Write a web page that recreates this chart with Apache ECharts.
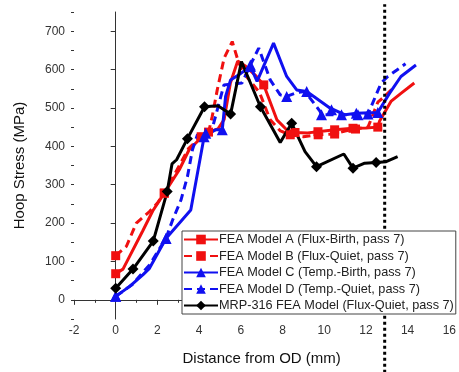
<!DOCTYPE html>
<html>
<head>
<meta charset="utf-8">
<script src="https://cdn.jsdelivr.net/npm/echarts@6/dist/echarts.min.js"></script>
<style>
  html, body { margin: 0; padding: 0; background: #fff; }
  #chart { width: 459px; height: 372px; }
</style>
</head>
<body>
<div id="chart"></div>
<script>
// [distance mm, hoop stress MPa]
const modelA = [[0,68],[0.35,80],[1.3,180],[1.78,232],[2.33,278],[3.05,339],[3.52,391],[4.0,417],[4.45,437],[4.9,445],[5.2,470],[5.5,565],[5.85,622],[6.2,610],[6.7,585],[7.1,560],[7.73,469],[8.2,443],[8.6,436],[9.2,435],[9.7,438],[10.5,443],[11.38,447],[12.0,448],[12.57,450],[12.65,465],[13.2,517],[13.68,538],[14.32,565]];
const modelAMarks = [0, 4, 8, 15, 18, 20, 21, 22, 24];

const modelB = [[0,115],[0.51,139],[0.99,200],[1.62,230],[2.0,252],[2.33,278],[3.5,395],[4.1,425],[4.48,443],[4.63,478],[4.87,547],[5.2,630],[5.59,673],[5.9,617],[6.3,580],[6.9,540],[7.4,470],[7.9,440],[8.37,430],[9.0,425],[9.71,430],[10.5,432],[11.0,440],[11.5,445],[12.1,450],[12.57,515],[12.9,530],[13.3,552]];
const modelBMarks = [0, 5, 7, 18, 20, 21, 23];

const modelC = [[0,9],[0.67,35],[1.3,65],[1.62,82],[2.41,160],[3.6,234],[4.24,425],[4.79,443],[5.11,443],[5.27,530],[5.51,573],[6.0,590],[6.46,608],[6.78,569],[7.57,669],[8.2,582],[8.68,547],[9.16,543],[9.5,530],[10.27,500],[10.35,495],[11.0,482],[11.54,486],[12.57,488],[13.13,538],[13.68,582],[14.4,612]];
const modelCMarks = [0, 4, 6, 8, 12, 17, 20, 22, 23];

const modelD = [[0,9],[0.8,40],[1.62,91],[2.41,160],[2.73,208],[3.13,260],[3.44,321],[3.68,391],[3.92,430],[4.32,434],[4.6,440],[5.19,560],[6.06,565],[6.46,612],[6.86,656],[7.41,573],[7.89,534],[8.2,530],[8.7,540],[9.08,543],[9.8,491],[9.87,482],[10.83,482],[11.62,482],[12.1,484],[12.73,565],[13.05,582],[13.9,615]];
const modelDMarks = [0, 3, 9, 13, 17, 21, 22, 23, 24];

const mrp316 = [[0,30],[0.83,80],[1.8,153],[2.47,282],[2.7,354],[2.92,365],[3.44,420],[4.26,503],[4.9,506],[5.51,484],[6.03,621],[6.94,503],[7.89,410],[8.44,460],[9.08,386],[9.63,347],[10.94,380],[11.38,343],[11.94,356],[12.49,358],[12.97,360],[13.52,373]];
const mrp316Marks = [0, 1, 2, 3, 6, 7, 9, 11, 13, 15, 17, 19];

const seriesNames = [
  "FEA Model A (Flux-Birth, pass 7)",
  "FEA Model B (Flux-Quiet, pass 7)",
  "FEA Model C (Temp.-Birth, pass 7)",
  "FEA Model D (Temp.-Quiet, pass 7)",
  "MRP-316 FEA Model (Flux-Quiet, pass 7)",
];

const yTicks = [0, 100, 200, 300, 400, 500, 600, 700];

// vertical dotted line position
const cutLineX = 12.9;
const cutLine = [[cutLineX, -190], [cutLineX, 770]];

const toData = (pts, marks) =>
  pts.map((p, i) => (marks.includes(i) ? { value: p } : { value: p, symbol: "none" }));

const font = "Liberation Sans, Arial, sans-serif";
const chart = echarts.init(document.getElementById("chart"));

const makeLine = (name, pts, marks, color, dashed, symbol, size) => ({
  name: name,
  type: "line",
  data: toData(pts, marks),
  symbol: symbol,
  symbolSize: size,
  yAxisIndex: 0,
  itemStyle: { color: color },
  lineStyle: { color: color, width: 3, type: dashed ? [8, 5] : "solid" },
  emphasis: { disabled: true },
  z: 3,
});

const option = {
  animation: false,
  grid: { left: 74, right: 7, top: 12, bottom: 53 },
  legend: {
    data: seriesNames,
    orient: "vertical",
    left: 182,
    top: 231,
    itemWidth: 34,
    itemHeight: 12,
    itemGap: 3.5,
    padding: [2, 2, 2, 1],
    borderColor: "#444",
    borderWidth: 1,
    backgroundColor: "#fff",
    z: 10,
    textStyle: { fontSize: 12.7, fontFamily: font, color: "#222", padding: [0, 0, 0, -4] },
  },
  xAxis: {
    type: "value",
    min: -2,
    max: 16,
    interval: 2,
    name: "Distance from OD (mm)",
    nameLocation: "middle",
    nameGap: 32,
    nameTextStyle: { fontSize: 15, fontFamily: font, color: "#111" },
    axisLine: { lineStyle: { color: "#333", width: 1 } },
    axisTick: { length: 5, lineStyle: { color: "#333" } },
    minorTick: { show: true, splitNumber: 2, length: 3, lineStyle: { color: "#333" } },
    axisLabel: { fontSize: 12, fontFamily: font, color: "#333", margin: 6 },
    splitLine: { show: false },
  },
  yAxis: [
    {
      type: "value",
      min: -50,
      max: 750,
      name: "Hoop Stress (MPa)",
      nameLocation: "middle",
      nameGap: 47,
      nameTextStyle: { fontSize: 15, fontFamily: font, color: "#111" },
      axisLine: { show: true, lineStyle: { color: "#333", width: 1 } },
      axisTick: { show: true, length: 5, lineStyle: { color: "#333" }, customValues: yTicks },
      axisLabel: { fontSize: 12, fontFamily: font, color: "#333", margin: 9, customValues: yTicks },
      splitLine: { show: false },
    },
    {
      type: "value",
      min: -50,
      max: 750,
      interval: 50,
      position: "left",
      axisLine: { show: false },
      axisTick: { show: true, length: 3, lineStyle: { color: "#333" } },
      axisLabel: { show: false },
      splitLine: { show: false },
    },
  ],
  series: [
    makeLine(seriesNames[0], modelA, modelAMarks, "#f01010", false, "rect", 9),
    makeLine(seriesNames[1], modelB, modelBMarks, "#f01010", true, "rect", 9),
    makeLine(seriesNames[2], modelC, modelCMarks, "#1010f0", false, "triangle", 11),
    makeLine(seriesNames[3], modelD, modelDMarks, "#1010f0", true, "triangle", 11),
    makeLine(seriesNames[4], mrp316, mrp316Marks, "#000", false, "diamond", 11),
    {
      name: "cut",
      type: "line",
      data: cutLine,
      symbol: "none",
      clip: false,
      lineStyle: { color: "#000", width: 3, type: [3, 3] },
      emphasis: { disabled: true },
      z: 4,
    },
  ],
};

chart.setOption(option);
</script>
</body>
</html>
